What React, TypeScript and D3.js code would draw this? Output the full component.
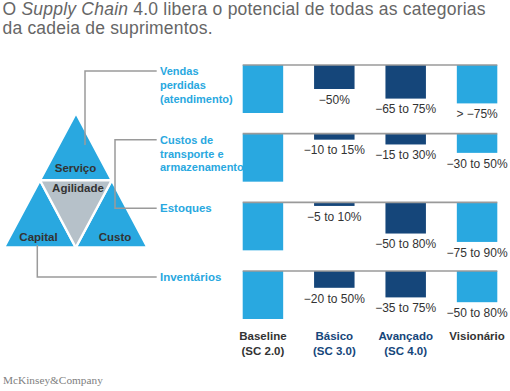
import React from "react";
import * as d3 from "d3";

const titleLine1 = ["O ", "Supply Chain", " 4.0 libera o potencial de todas as categorias"];
const titleLine2 = "da cadeia de suprimentos.";

const rows = ["vendas", "custos", "estoques", "inventarios"];
const rowLabelLines = [
  ["Vendas", "perdidas", "(atendimento)"],
  ["Custos de", "transporte e", "armazenamento"],
  ["Estoques"],
  ["Inventários"],
];

const stages = ["Baseline", "Básico", "Avançado", "Visionário"];
const stageSub = ["(SC 2.0)", "(SC 3.0)", "(SC 4.0)", ""];

const baselineValues = [100, 100, 100, 100];
const basicoValues = [50, 12.5, 7.5, 35];
const avancadoValues = [70, 22.5, 65, 55];
const visionarioValues = [80, 40, 82.5, 65];

const basicoLabels = ["−50%", "−10 to 15%", "−5 to 10%", "−20 to 50%"];
const avancadoLabels = ["−65 to 75%", "−15 to 30%", "−50 to 80%", "−35 to 75%"];
const visionarioLabels = ["> −75%", "−30 to 50%", "−75 to 90%", "−50 to 80%"];

const triangleLabels = ["Serviço", "Agilidade", "Capital", "Custo"];

const LIGHT = "#29a8e0";
const DARK = "#15467a";
const GRAY_TRI = "#b6c1c9";
const LINE = "#9a9a9a";
const TEXT = "#333333";
const FONT = "'Liberation Sans', Arial, Helvetica, sans-serif";

export default function App() {
  const W = 510, H = 391;
  const x = d3.scaleBand<string>().domain(stages).range([242.7, 497.3]).paddingInner(0.433).paddingOuter(0);
  const y = d3.scalePoint<string>().domain(rows).range([65, 271]);
  const h = d3.scaleLinear().domain([0, 100]).range([0, 48]);

  const series = [baselineValues, basicoValues, avancadoValues, visionarioValues];
  const seriesLabels = [null, basicoLabels, avancadoLabels, visionarioLabels];
  const colors = [LIGHT, DARK, DARK, LIGHT];
  const stageColors = [TEXT, DARK, DARK, TEXT];

  // pyramid
  const A: [number, number] = [76, 113];
  const L: [number, number] = [4, 247.5];
  const R: [number, number] = [147.5, 247.5];
  const mid = (p: [number, number], q: [number, number]): [number, number] => [(p[0] + q[0]) / 2, (p[1] + q[1]) / 2];
  const mAL = mid(A, L), mAR = mid(A, R), mLR = mid(L, R);
  const line = d3.line();
  const tris = [
    { pts: [A, mAL, mAR], fill: LIGHT },
    { pts: [mAL, L, mLR], fill: LIGHT },
    { pts: [mAR, mLR, R], fill: LIGHT },
    { pts: [mAL, mAR, mLR], fill: GRAY_TRI },
  ];

  const connX = 156.7;
  const ry = (i: number) => (y(rows[i]) as number) + 6;

  return (
    <svg width={W} height={H} style={{ position: "absolute", left: 0, top: 0 }} fontFamily={FONT}>
      <rect width={W} height={H} fill="#fff" />
      <text x={2.5} y={15} fontSize={17.5} fill="#666" textLength={483} lengthAdjust="spacing">
        {titleLine1[0]}
        <tspan fontStyle="italic">{titleLine1[1]}</tspan>
        {titleLine1[2]}
      </text>
      <text x={2.5} y={33.5} fontSize={17.5} fill="#666" textLength={210} lengthAdjust="spacing">{titleLine2}</text>

      {/* pyramid */}
      {tris.map((t, i) => (
        <path key={i} d={line(t.pts as [number, number][])! + "Z"} fill={t.fill} stroke="#fff" strokeWidth={2.4} strokeLinejoin="miter" />
      ))}
      <g fontSize={11.5} fontWeight="bold" fill={TEXT} textAnchor="middle">
        <text x={75.5} y={171.8}>{triangleLabels[0]}</text>
        <text x={78} y={191.8}>{triangleLabels[1]}</text>
        <text x={38.5} y={240.8}>{triangleLabels[2]}</text>
        <text x={115} y={240.8}>{triangleLabels[3]}</text>
      </g>

      {/* connectors */}
      <g fill="none" stroke={LINE} strokeWidth={1.5}>
        <path d={`M${connX},${ry(0)}H85V145`} />
        <path d={`M${connX},${ry(1)}H115V${ry(2)}H${connX}`} />
        <path d={`M${connX},${ry(3)}H37.3V245`} />
      </g>

      {/* row labels */}
      {rowLabelLines.map((lines, i) => (
        <text key={i} x={160} y={ry(i) + 4} fontSize={lines.length > 1 ? 11 : 11.5} fontWeight="bold" fill={LIGHT}>
          {lines.map((t, j) => (
            <tspan key={j} x={160} dy={j === 0 ? 0 : 13.9}>{t}</tspan>
          ))}
        </text>
      ))}

      {/* bars */}
      {rows.map((r, i) => {
        const y0 = y(r) as number;
        return (
          <g key={r}>
            {stages.map((s, k) => {
              const v = series[k][i];
              const bx = x(s) as number;
              const bh = h(v);
              const lab = seriesLabels[k];
              return (
                <g key={s}>
                  <rect x={bx} y={y0} width={x.bandwidth()} height={bh} fill={colors[k]} />
                  {lab && (
                    <text x={bx + x.bandwidth() / 2} y={y0 + bh + 14.8} textAnchor="middle" fontSize={12} fill={TEXT}>
                      {lab[i]}
                    </text>
                  )}
                </g>
              );
            })}
            <line x1={x.range()[0]} x2={x.range()[1]} y1={y0} y2={y0} stroke={LINE} strokeWidth={1.6} />
          </g>
        );
      })}

      {/* stage labels */}
      {stages.map((s, k) => {
        const cx = (x(s) as number) + x.bandwidth() / 2;
        return (
          <text key={s} x={cx} y={340} textAnchor="middle" fontSize={11.5} fontWeight="bold" fill={stageColors[k]}>
            <tspan x={cx} dy={0}>{s}</tspan>
            {stageSub[k] && <tspan x={cx} dy={14.7}>{stageSub[k]}</tspan>}
          </text>
        );
      })}

      <text x={3} y={384} fontSize={11.3} fill="#808080" fontFamily="'Liberation Serif', 'Times New Roman', serif">
        McKinsey&amp;Company
      </text>
    </svg>
  );
}
